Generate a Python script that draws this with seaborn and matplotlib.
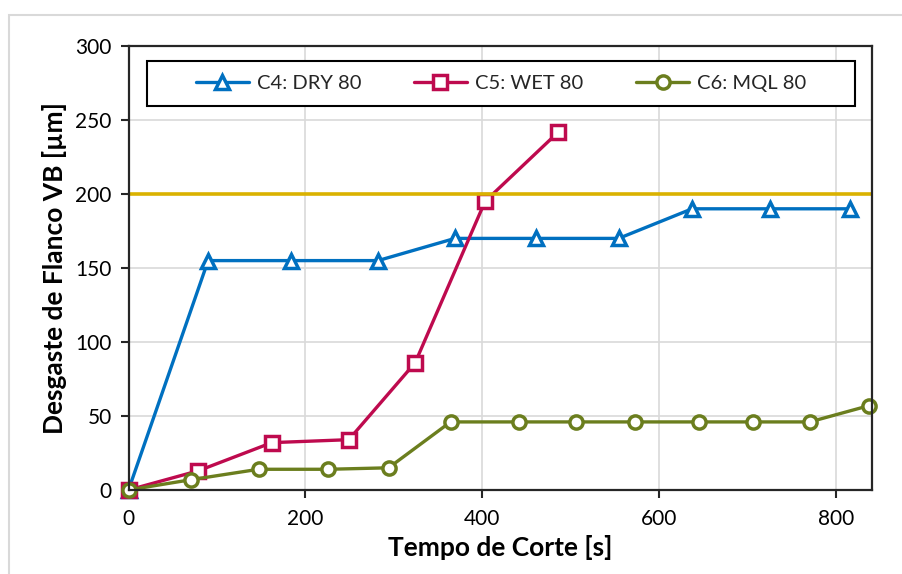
import matplotlib
matplotlib.use("Agg")
import matplotlib.pyplot as plt
import seaborn as sns
import pandas as pd
from matplotlib.patches import Rectangle

# ---- data ----
dry_x = [0, 90, 184, 282, 369, 461, 554, 637, 725, 815]
dry_y = [0, 155, 155, 155, 170, 170, 170, 190, 190, 190]
wet_x = [0, 79, 162, 249, 324, 403, 486]
wet_y = [0, 13, 32, 34, 86, 195, 242]
mql_x = [0, 71, 147, 226, 294, 364, 441, 506, 573, 645, 706, 770, 837]
mql_y = [0, 7, 14, 14, 15, 46, 46, 46, 46, 46, 46, 46, 57]
labels = ["C4: DRY 80", "C5: WET 80", "C6: MQL 80"]
limit_vb = 200
x_ticks = [0, 200, 400, 600, 800]
y_ticks = [0, 50, 100, 150, 200, 250, 300]

sns.set_theme(style="white")
plt.rcParams["font.family"] = ["Lato", "DejaVu Sans"]

fig = plt.figure(figsize=(9.02, 5.74), dpi=100)
# outer chart border
fig.add_artist(Rectangle((9 / 902, -0.05), 1.0, 1 - 15 / 574 + 0.05,
                         transform=fig.transFigure, fill=False,
                         edgecolor="#D9D9D9", linewidth=1.5))
ax = fig.add_axes([128.5 / 902, 1 - 490 / 574, (871.7 - 128.5) / 902, (490 - 46) / 574])

series = [
    (dry_x, dry_y, "#0070C0", "^", labels[0]),
    (wet_x, wet_y, "#BE0A4E", "s", labels[1]),
    (mql_x, mql_y, "#6B7E1E", "o", labels[2]),
]
for i, (xs, ys, col, mk, lab) in enumerate(series):
    df = pd.DataFrame({"x": xs, "y": ys})
    sns.lineplot(data=df, x="x", y="y", ax=ax, color=col, marker=mk,
                 markersize=9.5 if mk != "^" else 10, markerfacecolor="white",
                 markeredgecolor=col, markeredgewidth=2.5, linewidth=2.4,
                 label=lab, zorder=3 + i, sort=False, estimator=None,
                 clip_on=False)

ax.axhline(limit_vb, color="#DAB200", linewidth=2.6, zorder=7)

ax.set_xlim(0, 840)
ax.set_ylim(0, 300)
ax.set_xticks(x_ticks)
ax.set_yticks(y_ticks)
ax.grid(True, color="#D9D9D9", linewidth=1.2)
ax.set_axisbelow(True)
for s in ax.spines.values():
    s.set_visible(True)
    s.set_color("#262626")
    s.set_linewidth(1.6)
    s.set_zorder(8)
ax.tick_params(axis="both", which="major", labelsize=15, direction="out",
               length=6, width=1.5, color="#262626", labelcolor="#000000",
               bottom=True, left=True)
ax.tick_params(axis="x", pad=8)
ax.tick_params(axis="y", pad=6)
ax.set_xlabel("Tempo de Corte [s]", fontsize=19, fontweight="bold", labelpad=4,
              color="#000000")
ax.set_ylabel("Desgaste de Flanco VB [µm]", fontsize=19, fontweight="bold", labelpad=6,
              color="#000000")

x0 = (147 - 128.5) / 743.2
x1 = (855 - 128.5) / 743.2
yb = (490 - 106) / 444
yt = (490 - 61) / 444
ax.add_patch(Rectangle((x0, yb), x1 - x0, yt - yb, transform=ax.transAxes,
                       facecolor="white", edgecolor="#000000", linewidth=1.5,
                       zorder=9, clip_on=False))
leg = ax.legend(loc="center", bbox_to_anchor=((x0 + x1) / 2, (yb + yt) / 2),
                ncol=3, fontsize=14.5, frameon=False,
                handlelength=2.65, handletextpad=0.4, columnspacing=2.6)
leg.set_zorder(10)

fig.savefig("out.png", dpi=100, facecolor="white")
